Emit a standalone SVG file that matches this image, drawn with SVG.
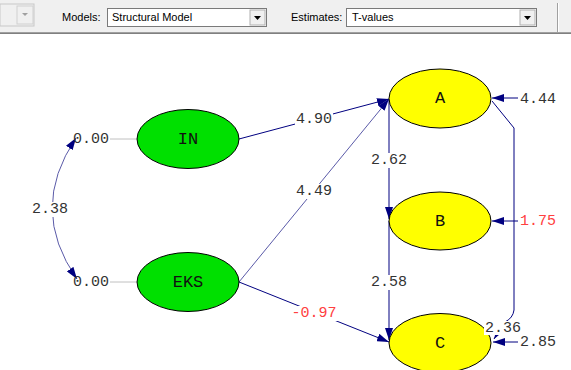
<svg xmlns="http://www.w3.org/2000/svg" width="571" height="370" viewBox="0 0 571 370">
<defs>
<style>
.tb{font-family:"Liberation Sans",Arial,sans-serif;font-size:11px;fill:#000}
.v{font-family:"Liberation Mono","Courier New",monospace;font-size:15px;fill:#333;text-anchor:middle;dominant-baseline:central}
.r{fill:#ff4040}
.n{font-family:"Liberation Mono","Courier New",monospace;font-size:17px;fill:#111;text-anchor:middle;dominant-baseline:central}
.g{fill:#00e000;stroke:#000;stroke-width:1}
.y{fill:#ffff00;stroke:#000;stroke-width:1}
.ln{fill:none;stroke:#000080;stroke-width:1}
.lt{fill:none;stroke:#5a5aa8;stroke-width:1}
.bg{fill:#fff}
</style>
<marker id="ah" viewBox="0 0 12 8" refX="12" refY="4" markerWidth="12" markerHeight="8" orient="auto-start-reverse" markerUnits="userSpaceOnUse">
<path d="M0,0 L12,4 L0,8 z" fill="#000080"/>
</marker>
</defs>
<rect width="571" height="370" fill="#fff"/>
<!-- toolbar -->
<g id="toolbar">
<rect x="0" y="0" width="571" height="33" fill="#f0f0f0"/>
<line x1="0" y1="32.5" x2="571" y2="32.5" stroke="#a0a0a0"/>
<line x1="0" y1="33.5" x2="571" y2="33.5" stroke="#808080"/>
<line x1="557.5" y1="3" x2="557.5" y2="32" stroke="#a0a0a0"/>
<line x1="558.5" y1="3" x2="558.5" y2="32" stroke="#fff"/>
<rect x="0" y="4" width="34" height="22" fill="#f0f0f0" stroke="#c8c8c8"/>
<rect x="17" y="6" width="16" height="18" fill="#f0f0f0" stroke="#d0d0d0"/>
<path d="M22,13 L28,13 L25,16 z" fill="#a0a0a0"/>
<text class="tb" x="62" y="21">Models:</text>
<rect x="107.5" y="8.5" width="159" height="18" fill="#fff" stroke="#7a7a7a"/>
<text class="tb" x="112" y="21">Structural Model</text>
<rect x="250" y="10" width="15" height="15" fill="#f0f0f0" stroke="#b0b0b0"/>
<path d="M254,16 L261,16 L257.5,20 z" fill="#000"/>
<text class="tb" x="291" y="21">Estimates:</text>
<rect x="346.5" y="8.5" width="190" height="18" fill="#fff" stroke="#7a7a7a"/>
<text class="tb" x="352" y="21">T-values</text>
<rect x="520" y="10" width="15" height="15" fill="#f0f0f0" stroke="#b0b0b0"/>
<path d="M524,16 L531,16 L527.5,20 z" fill="#000"/>
</g>
<!-- connectors -->
<g id="connectors">
<line x1="110" y1="139" x2="137" y2="139" stroke="#c0c0c0"/>
<line x1="110" y1="282" x2="137" y2="282" stroke="#c0c0c0"/>
<path class="lt" d="M76,138 Q28,209 77,279" marker-start="url(#ah)" marker-end="url(#ah)"/>
<path class="ln" d="M239,139 L389,99" marker-end="url(#ah)"/>
<path class="lt" d="M239,282 L389,99" marker-end="url(#ah)"/>
<path class="ln" d="M239,282 L389,342" marker-end="url(#ah)"/>
<path class="ln" d="M389,99 L389,219" marker-end="url(#ah)"/>
<path class="ln" d="M389,221 L389,340" marker-end="url(#ah)"/>
<path class="ln" d="M518,98 L492,98" marker-end="url(#ah)"/>
<path class="ln" d="M518,221 L492,221" marker-end="url(#ah)"/>
<path class="ln" d="M518,342 L493,342" marker-end="url(#ah)"/>
<path class="ln" d="M492,101 L514,128 L514,310 Q513,318 505,322 L494,339" marker-end="url(#ah)"/>
</g>
<!-- nodes -->
<g id="IN"><ellipse class="g" cx="188" cy="139" rx="51" ry="29.5"/><text class="n" x="188" y="139">IN</text></g>
<g id="EKS"><ellipse class="g" cx="188" cy="282" rx="51" ry="29.5"/><text class="n" x="188" y="282">EKS</text></g>
<g id="A"><ellipse class="y" cx="440" cy="98.5" rx="51" ry="29.5"/><text class="n" x="440" y="98.5">A</text></g>
<g id="B"><ellipse class="y" cx="440" cy="221" rx="51" ry="29"/><text class="n" x="440" y="221">B</text></g>
<g id="C"><ellipse class="y" cx="440" cy="343" rx="51" ry="29.5"/><text class="n" x="440" y="343">C</text></g>
<!-- labels -->
<g id="labels">
<text class="v" x="91" y="139">0.00</text>
<text class="v" x="91" y="282">0.00</text>
<rect class="bg" x="31" y="202" width="38" height="15"/><text class="v" x="50" y="209">2.38</text>
<rect class="bg" x="295" y="112" width="38" height="15"/><text class="v" x="314" y="119">4.90</text>
<rect class="bg" x="295" y="184" width="38" height="15"/><text class="v" x="314" y="191">4.49</text>
<rect class="bg" x="290" y="306" width="48" height="15"/><text class="v r" x="314" y="313">-0.97</text>
<rect class="bg" x="370" y="153" width="38" height="15"/><text class="v" x="389" y="160">2.62</text>
<rect class="bg" x="370" y="275" width="38" height="15"/><text class="v" x="389" y="282">2.58</text>
<rect class="bg" x="484" y="321" width="38" height="14"/><text class="v" x="503" y="328">2.36</text>
<text class="v" x="538" y="99">4.44</text>
<text class="v r" x="538" y="221">1.75</text>
<text class="v" x="538" y="342">2.85</text>
</g>
</svg>
